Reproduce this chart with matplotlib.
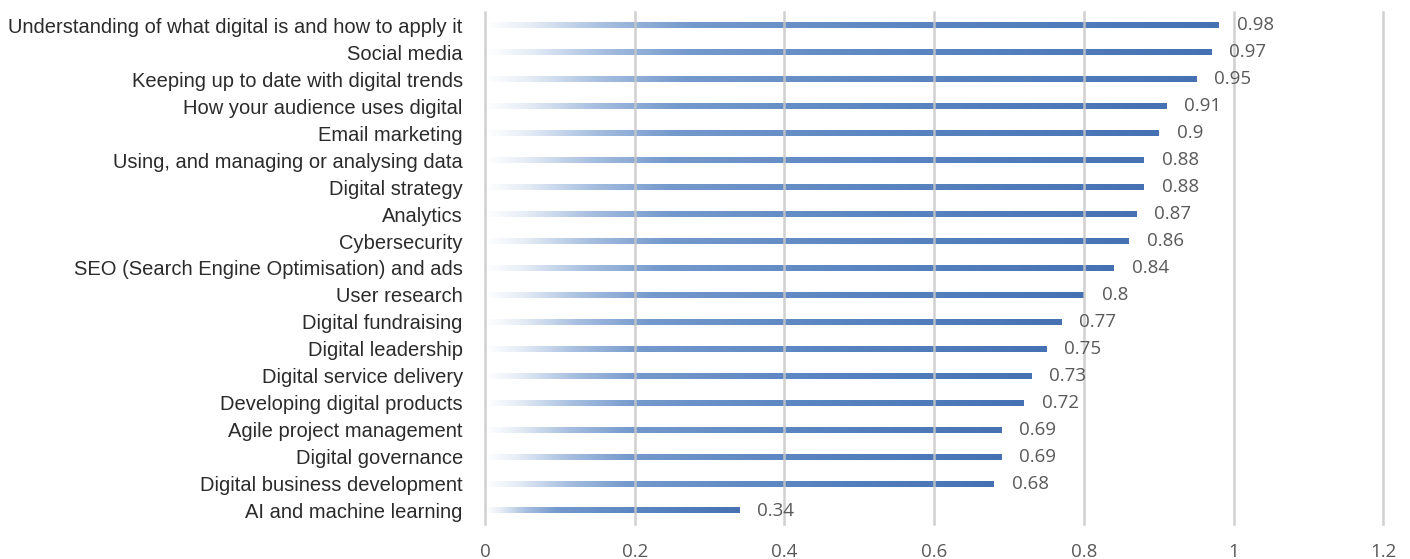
import numpy as np
import matplotlib
matplotlib.use("Agg")
import matplotlib.pyplot as plt
from matplotlib.colors import LinearSegmentedColormap

# data (top to bottom as in the chart)
categories = [
    "Understanding of what digital is and how to apply it",
    "Social media",
    "Keeping up to date with digital trends",
    "How your audience uses digital",
    "Email marketing",
    "Using, and managing or analysing data",
    "Digital strategy",
    "Analytics",
    "Cybersecurity",
    "SEO (Search Engine Optimisation) and ads",
    "User research",
    "Digital fundraising",
    "Digital leadership",
    "Digital service delivery",
    "Developing digital products",
    "Agile project management",
    "Digital governance",
    "Digital business development",
    "AI and machine learning",
]
values = [0.98, 0.97, 0.95, 0.91, 0.9, 0.88, 0.88, 0.87, 0.86, 0.84,
          0.8, 0.77, 0.75, 0.73, 0.72, 0.69, 0.69, 0.68, 0.34]
xticks = [0, 0.2, 0.4, 0.6, 0.8, 1, 1.2]
xtick_labels = ["0", "0.2", "0.4", "0.6", "0.8", "1", "1.2"]

fig = plt.figure(figsize=(14.1, 5.59), dpi=100)
ax = fig.add_axes([0.344, 0.0626, 0.637, 0.916])

# gradient bars: white at the start, blue at the end
cmap = LinearSegmentedColormap.from_list(
    "fade", [(0.0, "#ffffff"), (0.06, "#e6edf6"), (0.16, "#a7bfe0"),
             (0.28, "#7499cc"), (0.6, "#5a85c1"), (1.0, "#4672b4")])
grad = np.linspace(0, 1, 256).reshape(1, -1)
h = 0.22
n = len(categories)
for i, v in enumerate(values):
    y = n - 1 - i
    ax.imshow(grad, extent=[0, v, y - h / 2, y + h / 2], aspect="auto",
              cmap=cmap, interpolation="bilinear", zorder=2)
    ax.text(v + 0.024, y, str(v), va="center", ha="left",
            fontsize=13.5, color="#595959", family="Open Sans", zorder=4)

ax.set_xlim(0, 1.2)
ax.set_ylim(-0.5, n - 0.5)
ax.set_aspect("auto")

# grid
for x in xticks:
    ax.axvline(x, color="#c8c8c8", lw=1.8, alpha=0.85, zorder=3, clip_on=False)

ax.set_xticks(xticks)
ax.set_xticklabels(xtick_labels, color="#595959", fontsize=13.5, family="Open Sans")
ax.set_yticks(range(n))
ax.set_yticklabels(categories[::-1], fontsize=14.5, color="#2b2b2b",
                   family="Liberation Sans")
ax.tick_params(axis="both", length=0)
ax.tick_params(axis="x", pad=14)
ax.tick_params(axis="y", pad=16)
for s in ax.spines.values():
    s.set_visible(False)

fig.savefig("out.png", dpi=100)
